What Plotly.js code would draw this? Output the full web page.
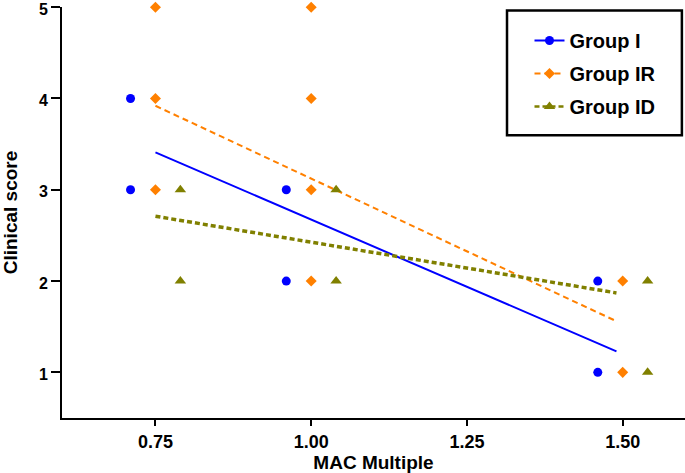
<!DOCTYPE html>
<html>
<head>
<meta charset="utf-8">
<script src="https://cdn.plot.ly/plotly-3.0.1.min.js"></script>
<style>html,body{margin:0;padding:0;background:#fff;}#chart{width:685px;height:473px;}</style>
</head>
<body>
<div id="chart"></div>
<script>
// Data
var groupNames = ["Group I", "Group IR", "Group ID"];
var groupI_x = [0.71, 0.71, 0.96, 0.96, 1.46, 1.46];
var groupI_y = [4, 3, 3, 2, 2, 1];
var groupIR_x = [0.75, 0.75, 0.75, 1.00, 1.00, 1.00, 1.00, 1.50, 1.50];
var groupIR_y = [5, 4, 3, 5, 4, 3, 2, 2, 1];
var groupID_x = [0.79, 0.79, 1.04, 1.04, 1.54, 1.54];
var groupID_y = [3, 2, 3, 2, 2, 1];
var fit_x = [0.75, 1.49];
var fitI_y = [3.41, 1.23];
var fitIR_y = [3.92, 1.56];
var fitID_y = [2.71, 1.87];
var xTickVals = [0.75, 1.00, 1.25, 1.50];
var xTickText = ["0.75", "1.00", "1.25", "1.50"];
var yTickVals = [1, 2, 3, 4, 5];
var yTickText = ["1", "2", "3", "4", "5"];

var colors = ["#0000FF", "#FF8000", "#808000"];
var symbols = ["circle", "diamond", "triangle-up"];
var sizes = [9, 8.5, 10];
var dashes = ["solid", "6px,4px", "5px,3px"];
var widths = [2, 2, 3.5];

// interleave nulls so the legend shows line+marker but no lines join the points
function gap(a) { var o = []; a.forEach(function (v, i) { if (i) o.push(null); o.push(v); }); return o; }
function bold(a) { return a.map(function (t) { return "<b>" + t + "</b>"; }); }

var px = [groupI_x, groupIR_x, groupID_x];
var py = [groupI_y, groupIR_y, groupID_y];
var fy = [fitI_y, fitIR_y, fitID_y];
var traces = [];
for (var i = 0; i < 3; i++) {
  traces.push({
    x: fit_x, y: fy[i], type: "scatter", mode: "lines", showlegend: false,
    line: {color: colors[i], width: widths[i], dash: dashes[i]}, hoverinfo: "skip"
  });
}
for (var j = 0; j < 3; j++) {
  traces.push({
    x: gap(px[j]), y: gap(py[j]), type: "scatter", mode: "lines+markers",
    connectgaps: false, cliponaxis: false, name: "<b>" + groupNames[j] + "</b>", legendgroup: "g" + j,
    marker: {color: colors[j], symbol: symbols[j], size: sizes[j]},
    line: {color: colors[j], width: j === 2 ? 2.5 : 2, dash: dashes[j]}
  });
}

var fontFam = "Liberation Sans, Arial, sans-serif";
var layout = {
  width: 685, height: 473,
  margin: {l: 62, r: 0, t: 7, b: 55},
  paper_bgcolor: "#fff", plot_bgcolor: "#fff",
  font: {family: fontFam, color: "#000"},
  xaxis: {
    range: [0.6, 1.6], tickvals: xTickVals, ticktext: bold(xTickText),
    showgrid: false, zeroline: false, showline: true, linecolor: "#000", linewidth: 2,
    ticks: "outside", ticklen: 6, tickwidth: 2, tickcolor: "#000",
    tickfont: {family: fontFam, size: 18},
    title: {text: "<b>MAC Multiple</b>", font: {family: fontFam, size: 19}, standoff: 4}
  },
  yaxis: {
    range: [0.5, 5.002], tickvals: yTickVals, ticktext: bold(yTickText),
    showgrid: false, zeroline: false, showline: true, linecolor: "#000", linewidth: 2,
    ticks: "outside", ticklen: 9, tickwidth: 2, tickcolor: "#000",
    tickfont: {family: fontFam, size: 16}, ticklabelshift: 2, ticklabeloverflow: "allow",
    title: {text: "<b>Clinical score</b>", font: {family: fontFam, size: 19}, standoff: 23}
  },
  showlegend: true,
  legend: {
    x: 0.7504, y: 0.966, xanchor: "left", yanchor: "top",
    bgcolor: "rgba(0,0,0,0)", borderwidth: 0,
    font: {family: fontFam, size: 20, color: "#000"},
    tracegroupgap: 4, itemwidth: 30
  },
  shapes: [{
    type: "rect", xref: "paper", yref: "paper",
    x0: 0.7143, x1: 0.995, y0: 0.688, y1: 0.9915,
    line: {color: "#000", width: 2.5}, fillcolor: "rgba(0,0,0,0)"
  }]
};

Plotly.newPlot("chart", traces, layout, {displayModeBar: false, staticPlot: true});
</script>
</body>
</html>
